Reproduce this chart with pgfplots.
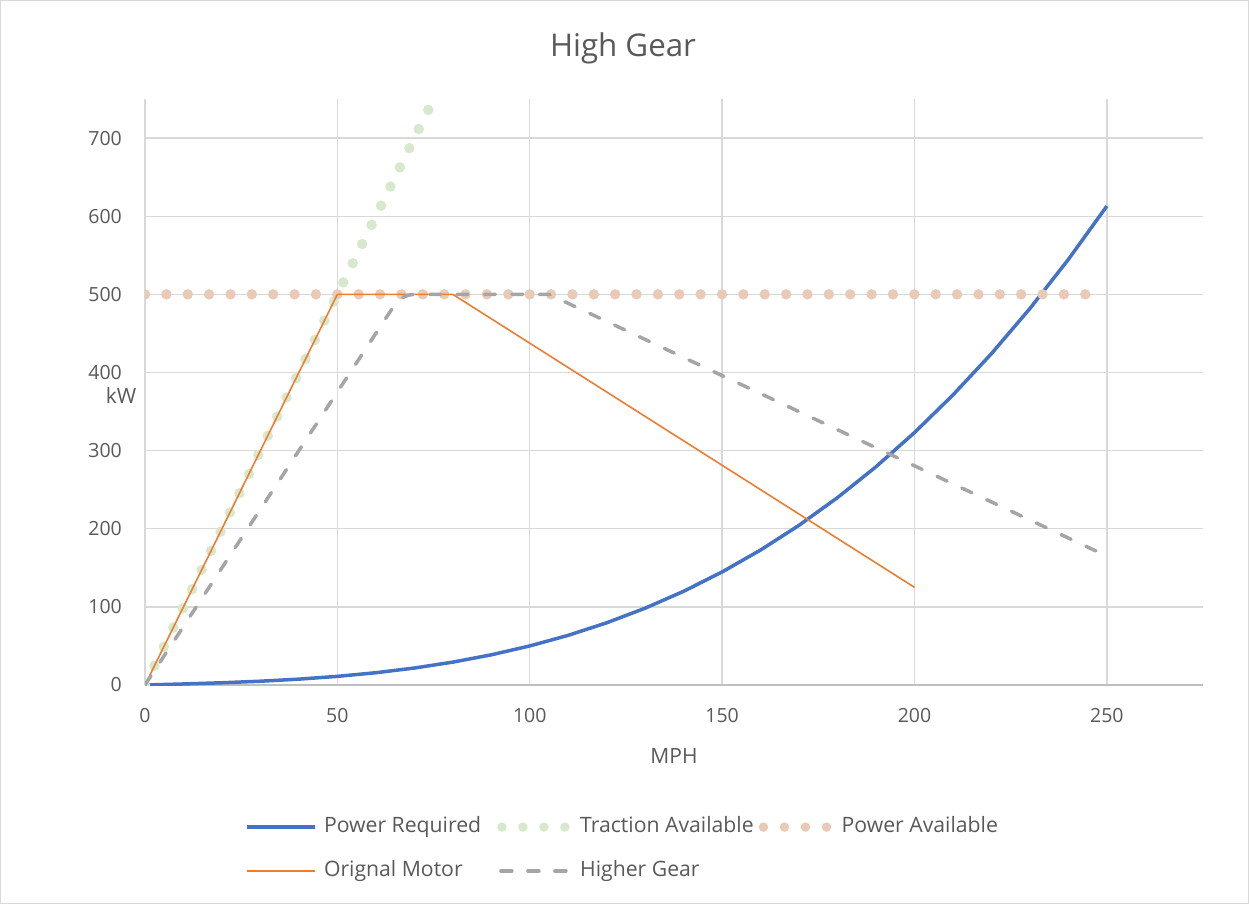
\documentclass[border=0pt]{standalone}
\usepackage{pgfplots}
\pgfplotsset{compat=1.18}
\usepackage{fontspec}
\setmainfont{Open Sans}
\definecolor{txt}{HTML}{595959}
\definecolor{gridc}{HTML}{D9D9D9}
\definecolor{axc}{HTML}{BFBFBF}
\definecolor{pblue}{HTML}{4472C4}
\definecolor{porange}{HTML}{ED7D31}
\definecolor{pgray}{HTML}{A5A5A5}
\definecolor{pgreen}{HTML}{D8E8CD}
\definecolor{ppeach}{HTML}{E8CAB7}
\begin{document}
\begin{tikzpicture}
\useasboundingbox (-145pt,-219pt) rectangle (1104pt,685pt);
\draw[gridc, line width=1pt] (-144.5pt,-218.5pt) rectangle (1103.5pt,684.5pt);
\begin{axis}[
  scale only axis, width=1058pt, height=586pt,
  xmin=0, xmax=275, ymin=0, ymax=750,
  xtick={0,50,100,150,200,250}, ytick={0,100,200,300,400,500,600,700},
  grid=major, major grid style={color=gridc, line width=1.3pt},
  axis x line*=bottom, axis y line*=left,
  x axis line style={color=axc, line width=1.5pt, -},
  y axis line style={color=gridc, line width=1.5pt, -},
  major tick length=0pt,
  /pgf/number format/assume math mode=true,
  tick label style={font=\fontsize{19.5}{19.5}\selectfont, text=txt},
  xticklabel style={inner sep=0pt, anchor=north, yshift=-23pt},
  yticklabel style={inner sep=0pt, anchor=east, xshift=-23pt},
  title={High Gear},
  title style={at={(axis description cs:0.4518,1.0615)}, anchor=base, font=\fontsize{31.3}{31.3}\selectfont, text=txt, inner sep=0pt},
  xlabel={MPH}, ylabel={kW},
  every axis x label/.style={at={(axis description cs:0.5,0)}, anchor=base, yshift=-78pt, font=\fontsize{21}{21}\selectfont, text=txt, inner sep=0pt},
  every axis y label/.style={at={(axis description cs:0,0.4812)}, anchor=base, xshift=-24pt, font=\fontsize{21}{21}\selectfont, text=txt, inner sep=0pt},
  legend columns=3,
  legend cell align=left,
  legend style={at={(axis description cs:0.0948,-0.2800)}, anchor=west, draw=none, fill=none,
    font=\fontsize{21.2}{21.2}\selectfont, text=txt, inner sep=0pt,
    nodes={inner sep=0pt, text height=15pt, text depth=4.5pt},
    row sep=24.5pt,
    /tikz/column 2/.append style={column sep=16pt},
    /tikz/column 4/.append style={column sep=5pt}},
]
\addplot[pblue, line width=3.5pt, line join=round,
  legend image code/.code={\draw[pblue, line width=3.5pt] (0pt,0pt) -- (68pt,0pt); \path (75pt,0pt);}]
  coordinates {(0,0) (10,1.32) (20,2.86) (30,4.84) (40,7.50) (50,11.05) (60,15.71) (70,21.71) (80,29.28) (90,38.62) (100,49.98) (110,63.57) (120,79.61) (130,98.32) (140,119.94) (150,144.68) (160,172.77) (170,204.42) (180,239.87) (190,279.33) (200,323.04) (210,371.21) (220,424.06) (230,481.81) (240,544.69) (250,612.94)};
\addlegendentry{Power Required}
\addplot[pgreen, line width=10.5pt, line cap=round, dash pattern=on 0pt off 21.37pt,
  legend image code/.code={\draw[pgreen, line width=9.5pt, line cap=round, dash pattern=on 0pt off 21pt] (5pt,0pt) -- (70pt,0pt); \path (78pt,0pt);}]
  coordinates {(0,0) (80,800)};
\addlegendentry{Traction Available}
\addplot[ppeach, line width=10.5pt, line cap=round, dash pattern=on 0pt off 21.37pt,
  legend image code/.code={\draw[ppeach, line width=9.5pt, line cap=round, dash pattern=on 0pt off 21pt] (5pt,0pt) -- (70pt,0pt); \path (78pt,0pt);}]
  coordinates {(0,500) (245,500)};
\addlegendentry{Power Available}
\addplot[porange, line width=1.6pt, line join=round,
  legend image code/.code={\draw[porange, line width=1.6pt] (0pt,0pt) -- (68pt,0pt); \path (75pt,0pt);}]
  coordinates {(0,0) (50,500) (80,500) (200,125)};
\addlegendentry{Orignal Motor}
\addplot[pgray, line width=3.5pt, line cap=round, line join=round, dash pattern=on 11pt off 16.4pt,
  legend image code/.code={\draw[pgray, line width=3.5pt, line cap=round, dash pattern=on 11pt off 16pt] (4pt,0pt) -- (70pt,0pt); \path (78pt,0pt);}]
  coordinates {(0,0) (64,480) (65.5,490) (67,496) (68.5,499) (70,500) (105,500) (250,165)};
\addlegendentry{Higher Gear}
\end{axis}
\end{tikzpicture}
\end{document}
